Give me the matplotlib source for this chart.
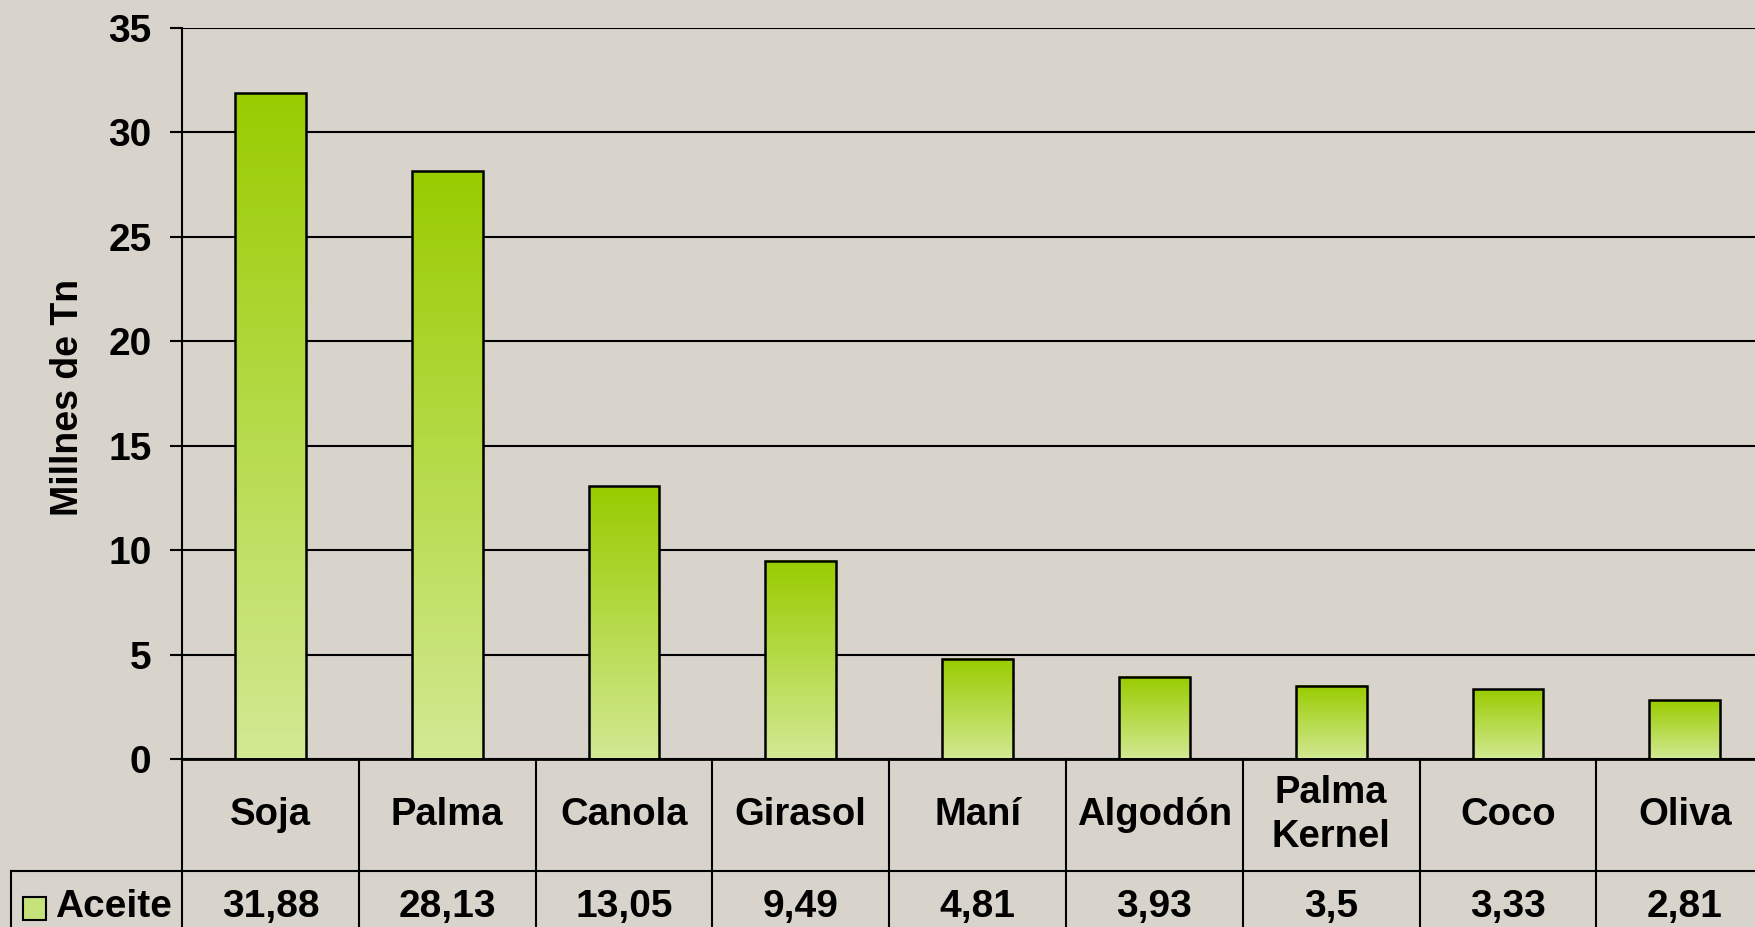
import numpy as np
import matplotlib.pyplot as plt
from matplotlib.colors import LinearSegmentedColormap
from matplotlib.transforms import blended_transform_factory

plt.rcParams['font.family'] = ['Liberation Sans', 'DejaVu Sans']
plt.rcParams['font.weight'] = 'bold'

categorias = ['Soja', 'Palma', 'Canola', 'Girasol', 'Maní', 'Algodón',
              'Palma\nKernel', 'Coco', 'Oliva']
aceite = [31.88, 28.13, 13.05, 9.49, 4.81, 3.93, 3.5, 3.33, 2.81]
etiquetas = ['31,88', '28,13', '13,05', '9,49', '4,81', '3,93', '3,5', '3,33', '2,81']
serie = 'Aceite'

W, H = 1755, 927
fondo = '#d8d4cc'
fig = plt.figure(figsize=(W / 100, H / 100), dpi=100, facecolor=fondo)

# ejes: el borde derecho sale de la figura (como en el original)
y0, y35 = 759, 28
x_izq, ancho_col = 182, 176.8
ax = fig.add_axes([x_izq / W, 1 - y0 / H, 9 * ancho_col / W, (y0 - y35) / H])
ax.set_facecolor('none')
ax.set_yticks(range(0, 36, 5))
ax.tick_params(axis='y', labelsize=28, length=9, width=1.5, pad=13)
ax.tick_params(axis='x', bottom=False, labelbottom=False)
ax.yaxis.grid(True, color='black', lw=1.5, zorder=0.5)
ax.set_axisbelow(True)
for s in ['top', 'right']:
    ax.spines[s].set_visible(False)
ax.spines['left'].set_linewidth(1.5)
ax.spines['bottom'].set_linewidth(2)
ax.set_ylabel('Millnes de Tn', fontsize=27, fontweight='bold')
ax.yaxis.set_label_coords((86 - x_izq) / (9 * ancho_col), 0.495)

# barras con degradado
verde = LinearSegmentedColormap.from_list('verde', ['#d2e993', '#99cc00'])
grad = np.linspace(0, 1, 256).reshape(-1, 1)
x = np.arange(len(categorias))
ancho = 0.4
for xi, v in zip(x, aceite):
    ax.imshow(grad, cmap=verde, origin='lower', aspect='auto',
              extent=[xi - ancho / 2, xi + ancho / 2, 0, v], zorder=1)
ax.bar(x, aceite, width=ancho, fill=False, edgecolor='black', lw=1.8, zorder=2)
ax.set_xlim(-0.5, 8.5)
ax.set_ylim(0, 35)

# tabla de datos debajo del gráfico
tr = blended_transform_factory(ax.transData, fig.transFigure)
fy = lambda py: 1 - py / H
y_fila = 871
for k in range(len(categorias) + 1):
    ax.plot([k - 0.5, k - 0.5], [fy(y0), 0], color='black', lw=1.5,
            transform=tr, clip_on=False)
fig.add_artist(plt.Line2D([11 / W, 1.0], [fy(y_fila), fy(y_fila)],
                          color='black', lw=1.5))
fig.add_artist(plt.Line2D([11 / W, 11 / W], [fy(y_fila), 0], color='black', lw=1.5))

for xi, c, e in zip(x, categorias, etiquetas):
    ax.text(xi, fy((y0 + y_fila) / 2), c, transform=tr, ha='center', va='center',
            fontsize=27.5, fontweight='bold', linespacing=1.3)
    ax.text(xi, fy(907), e, transform=tr, ha='center', va='center',
            fontsize=28, fontweight='bold')

# leyenda de la serie
fig.add_artist(plt.Rectangle((23 / W, fy(920)), 23 / W, 23 / H,
                             transform=fig.transFigure, facecolor='#c6e27a',
                             edgecolor='black', lw=1.5))
fig.text(55 / W, fy(907), serie, ha='left', va='center', fontsize=28,
         fontweight='bold')

fig.savefig('out.png', dpi=100, facecolor=fondo)
